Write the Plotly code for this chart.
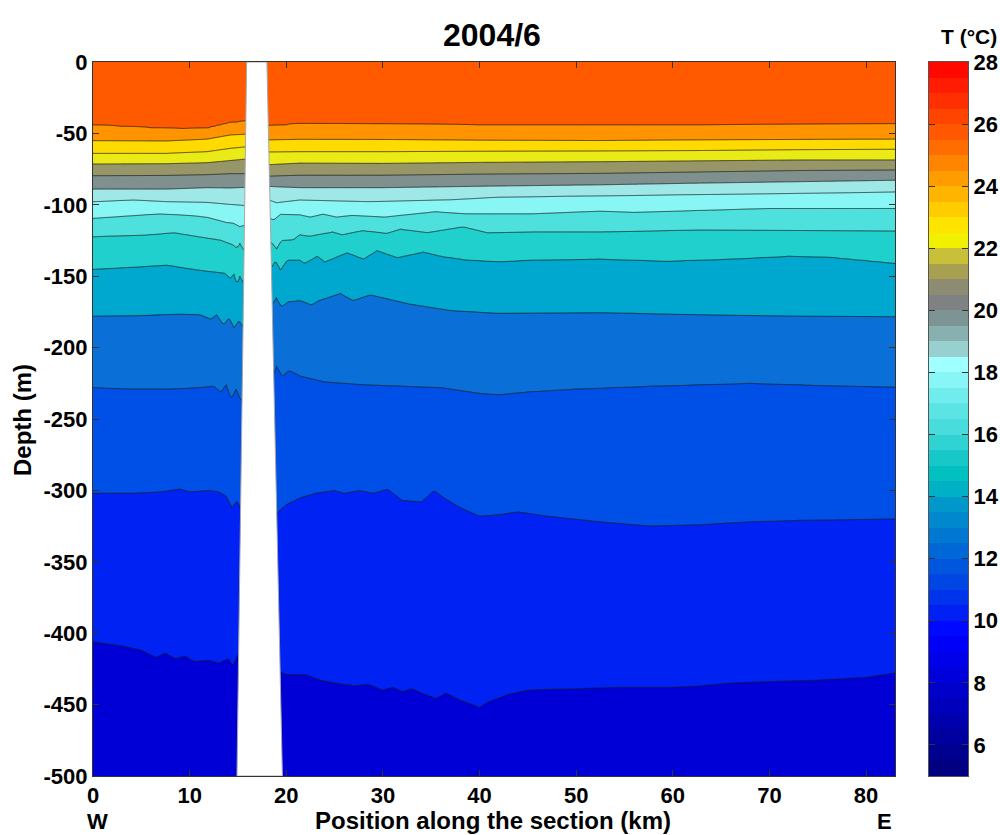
import numpy as np
import plotly.graph_objects as go

# ---------------- data ----------------
title_text = "2004/6"
x_ticks = [0, 10, 20, 30, 40, 50, 60, 70, 80]
y_ticks = [0, -50, -100, -150, -200, -250, -300, -350, -400, -450, -500]
y_tick_labels = ["0", "-50", "-100", "-150", "-200", "-250", "-300", "-350", "-400", "-450", "-500"]
cb_ticks = [6, 8, 10, 12, 14, 16, 18, 20, 22, 24, 26, 28]
cb_levels = [5 + 0.5 * k for k in range(47)]  # 5 .. 28 step 0.5

# isotherm depths (m) along the section (km), top to bottom
line01_x = [0, 5.2, 9.3, 11.8, 14.2, 16, 18, 20, 21.4, 30, 40, 52.5, 62.8, 73, 83]
line01_d = [-44.1, -45.8, -46.9, -46.4, -42.5, -41.3, -44.8, -44, -43, -43.5, -44, -44, -44, -43.8, -43.4]

line02_x = [0, 7.6, 11.8, 14.2, 16, 18, 21.4, 30, 40, 52.5, 62.8, 73, 83]
line02_d = [-55.1, -55.3, -54, -51.1, -50.5, -54.6, -54.2, -54.3, -54.8, -55, -54.6, -54.3, -54]

line03_x = [0, 7.6, 11.8, 14.2, 16, 18, 21.4, 30, 40, 52.5, 62.8, 73, 83]
line03_d = [-64, -64, -62.8, -60.5, -59.3, -63, -62.8, -62.8, -62.5, -62.3, -62, -61.4, -61.1]

line04_x = [0, 7.6, 11.8, 14.2, 16, 18, 21.4, 30, 40, 52.5, 62.8, 73, 83]
line04_d = [-71.4, -71.2, -70.5, -69, -67.8, -72, -70.8, -71, -70.3, -69.8, -69.2, -68.6, -68.6]

line05_x = [0, 7.6, 11.8, 14.2, 16, 18, 21.4, 30, 40, 52.5, 62.8, 73, 83]
line05_d = [-79.6, -79.4, -78.9, -78.2, -78.2, -80, -79.3, -79.3, -78.5, -78, -77, -76, -75.6]

line06_x = [0, 7.6, 11.8, 14.2, 16, 18, 21.4, 30, 40, 52.5, 62.8, 73, 83]
line06_d = [-89, -89, -88, -88.2, -87.7, -87, -88, -88, -87, -86, -84.8, -83.8, -82.8]

line07_x = [0, 4.2, 7.6, 11.8, 14.2, 16, 18, 19, 21.4, 28.5, 37, 42, 52.5, 62.8, 73, 83]
line07_d = [-97.8, -96.6, -97.8, -98.3, -99.7, -100.6, -96, -98.6, -96.6, -97.8, -96.5, -94.6, -93.7, -92.8, -92, -91]

line08_x = [0, 6.9, 10.2, 11.8, 12.8, 13.8, 14.5, 15.2, 16, 18, 18.7, 19.4, 21.4, 22.5, 23.8, 25.2,
            26.8, 30.2, 35.4, 38.5, 45.5, 52.5, 56, 70, 83]
line08_d = [-109.5, -106.3, -107.5, -108.7, -110.5, -112.4, -112.8, -115.3, -113.7, -108.3, -110.6, -106.5,
            -107, -108.6, -106.5, -108.6, -107.4, -108.6, -104.8, -106.3, -106.3, -104.4, -105.3, -102.5, -102.5]

line09_x = [0, 5.6, 8.4, 11.1, 13.2, 14.5, 14.9, 15.2, 15.6, 16, 18, 18.5, 19, 19.5, 20.7, 21.4, 22.4,
            24.8, 25.8, 27.9, 30.4, 31.8, 34.6, 38.3, 40.8, 45.5, 52.5, 62.8, 73, 83]
line09_d = [-122.3, -121.1, -119.5, -122.5, -124.7, -128, -130.4, -127, -131.6, -129.5, -124.6, -126.5,
            -131, -125, -124.6, -121, -122, -119, -121, -118, -120, -117, -119.5, -115.3, -119.5, -119,
            -119, -117.6, -118, -118.3]

line10_x = [0, 5.2, 7.6, 9.7, 11.8, 13.6, 14.2, 14.6, 14.9, 15.2, 15.6, 16, 18, 18.3, 18.9, 19.4, 20.1,
            21.4, 21.9, 23.2, 24, 26.3, 28, 29.4, 31.5, 34.2, 36, 38.7, 42.1, 45.5, 52.5, 59.4, 66, 72, 76, 83]
line10_d = [-145.2, -143.3, -142.2, -144.5, -146.5, -147.8, -151.3, -148.5, -156, -150, -155, -152,
            -139.8, -145.6, -139, -145.6, -138.7, -138.7, -141, -136, -140, -133.5, -138, -132, -137,
            -133, -136, -138.7, -139.8, -138.7, -138, -139.5, -138, -136, -136.5, -141]

line11_x = [0, 5, 9, 11.1, 12.2, 12.8, 13.5, 14.1, 14.6, 15.1, 15.6, 16, 18, 18.5, 19, 19.5, 20.2,
            21.4, 22.6, 23.4, 25.6, 26.9, 28.7, 32.8, 37, 42, 52.5, 62.8, 73, 83]
line11_d = [-178, -177.5, -176.5, -177, -180, -177, -184, -179, -186, -181, -186, -184, -163, -170,
            -165, -171.4, -168, -167, -170, -167, -162, -167, -163, -169.5, -174, -176, -175.5, -177,
            -178, -178.3]

line12_x = [0, 4, 8, 11, 12.5, 13.2, 13.8, 14.3, 14.8, 15.3, 16, 18, 18.5, 19, 19.6, 20.3, 21.5, 24,
            28, 32, 36, 40, 42, 45, 50, 57.7, 62.8, 68, 73, 78, 83]
line12_d = [-228, -229, -229, -228, -227, -231, -226, -236, -229, -237, -233, -214, -222, -213, -220,
            -216, -220, -224, -226, -227, -228, -232, -233, -231, -229, -227, -226, -225, -226, -227, -227.5]

line13_x = [0, 4, 7, 9, 10, 12, 13, 13.8, 14.4, 14.9, 15.4, 16, 18, 19, 20, 21.5, 23, 25, 26, 27.6,
            29, 30.5, 32, 34, 35.3, 36.5, 38, 40, 42, 44, 47, 52.5, 57.7, 62.8, 68, 73, 78, 83]
line13_d = [-302, -302, -301, -299, -301, -300, -301, -304, -312, -307, -314, -316, -314, -316, -310,
            -305, -302, -300, -302, -300, -302, -299, -307, -308, -300, -306, -312, -318, -317, -315,
            -318, -322, -325, -324, -322, -321, -320.5, -320]

line14_x = [0, 3, 5, 6.5, 7.5, 8.5, 9.5, 10.5, 12, 13, 14, 14.5, 15, 16, 18, 19, 20, 22, 23.5, 25, 27,
            28.5, 30, 31, 32, 33, 34, 35.5, 36.5, 38, 40, 41, 43, 45, 50, 55, 60, 62, 66, 70, 75, 80, 83]
line14_d = [-406, -409, -412, -417, -414, -418, -416, -420, -419, -421, -418, -423, -415, -420, -428,
            -426, -429, -429, -433, -435, -437, -436, -440, -438, -441, -439, -442, -446, -442, -447,
            -452, -448, -443, -440, -439, -438, -438, -437.5, -435, -434, -433, -431, -428]

# blanked (no data) wedge
gap_x = [14.9, 15.9, 18.0, 19.6, 14.9]
gap_d = [-500, 0, 0, -500, -500]

# ---------------- styles ----------------
layer_colors = ["#FF5A00", "#FF9400", "#FFDA00", "#EAEA16", "#969668", "#80908E", "#9EE8E8",
                "#88F6F4", "#4EE0DC", "#20D0CC", "#00A8D0", "#0A70D8", "#0050E8", "#0022F2", "#0000D6"]

cb_colors = ["#000080", "#00008F", "#00009E", "#0000AD", "#0000BC", "#0000CB", "#0000DA", "#0000E9",
             "#0000F8", "#0008FF", "#0020F4", "#0034EC", "#0046E4", "#0056DC", "#0068D6", "#0078D2",
             "#0088CE", "#0098CA", "#00B0C4", "#00C0C0", "#18C8C8", "#30D2D2", "#48DCDC", "#5CE4E4",
             "#70ECEC", "#88F6F6", "#A0FFFF", "#98D0D0", "#88B0B0", "#7C9494", "#7E8282", "#8C8C72",
             "#A8A050", "#C8C038", "#F0F000", "#FFE400", "#FFCC00", "#FFB400", "#FF9C00", "#FF8400",
             "#FF6C00", "#FF5800", "#FF4400", "#FF3000", "#FF1C00", "#FF0800"]

FONT = "Arial, 'Liberation Sans', sans-serif"

# ---------------- field ----------------
lines = [(line01_x, line01_d), (line02_x, line02_d), (line03_x, line03_d), (line04_x, line04_d),
         (line05_x, line05_d), (line06_x, line06_d), (line07_x, line07_d), (line08_x, line08_d),
         (line09_x, line09_d), (line10_x, line10_d), (line11_x, line11_d), (line12_x, line12_d),
         (line13_x, line13_d), (line14_x, line14_d)]
nL = len(lines)
xf = np.linspace(0, 83, 416)
df = np.linspace(0, -500, 501)
D = np.array([np.interp(xf, lx, ld) for lx, ld in lines])  # nL x nx
Z = np.zeros((len(df), len(xf)))
fp = np.arange(0, nL + 2, dtype=float)
for j in range(len(xf)):
    xp = np.concatenate([[0.0], -D[:, j], [500.0]])
    Z[:, j] = np.interp(-df, xp, fp)

# discrete colourscale for the contour layers
span = len(layer_colors) - 1
cs = []
for k, c in enumerate(layer_colors):
    cs.append([max(0.0, (k - 0.5) / span), c])
    cs.append([min(1.0, (k + 0.5) / span), c])

# discrete colourscale for the colorbar
m = len(cb_colors)
cbs = []
for k, c in enumerate(cb_colors):
    cbs.append([k / m, c])
    cbs.append([(k + 1) / m, c])
cb_centers = [(a + b) / 2 for a, b in zip(cb_levels[:-1], cb_levels[1:])]

# ---------------- geometry (pixels) ----------------
L, R_EDGE, T, B = 93, 968, 62, 776
PW = R_EDGE - L
main_right = (895 - L) / PW
cb_left = (929 - L) / PW


def px(xp):
    return (xp - L) / PW


def py(yp):
    return (B - yp) / (B - T)


fig = go.Figure()
fig.add_trace(go.Contour(
    x=xf, y=df, z=Z,
    contours=dict(start=1, end=nL, size=1, coloring="fill"),
    colorscale=cs, showscale=False,
    line=dict(color="rgba(25,25,25,0.85)", width=0.9, smoothing=0),
    hoverinfo="skip", xaxis="x", yaxis="y",
))
fig.add_trace(go.Scatter(
    x=gap_x, y=gap_d, mode="lines", fill="toself", fillcolor="white",
    line=dict(color="#A8A8A8", width=1), hoverinfo="skip", showlegend=False,
    xaxis="x", yaxis="y",
))
fig.add_trace(go.Heatmap(
    x=[0], y=cb_centers, z=[[v] for v in cb_centers],
    colorscale=cbs, zmin=cb_levels[0], zmax=cb_levels[-1], showscale=False,
    hoverinfo="skip", xaxis="x2", yaxis="y2",
))

tick_font = dict(family=FONT, size=22, color="black", weight="bold")
axis_common = dict(showline=True, linecolor="#333333", linewidth=1, mirror="ticks", ticks="inside",
                   ticklen=6, tickcolor="#333333", showgrid=False, zeroline=False, tickfont=tick_font,
                   automargin=False)

fig.update_layout(
    width=1000, height=835, autosize=False,
    margin=dict(l=L, r=1000 - R_EDGE, t=T, b=835 - B),
    paper_bgcolor="white", plot_bgcolor="white",
    showlegend=False,
    xaxis=dict(domain=[0, main_right], range=[0, 83], tickvals=x_ticks, anchor="y", **axis_common),
    yaxis=dict(domain=[0, 1], range=[-500, 0], tickvals=y_ticks, ticktext=y_tick_labels,
               anchor="x", **axis_common),
    xaxis2=dict(domain=[cb_left, 1], range=[-0.5, 0.5], anchor="y2", showticklabels=False,
                ticks="", showline=True, mirror=True, linecolor="#555555", linewidth=1,
                showgrid=False, zeroline=False, automargin=False),
    yaxis2=dict(domain=[0, 1], range=[cb_levels[0], cb_levels[-1]], anchor="x2", side="right",
                tickvals=cb_ticks, showline=True, mirror="ticks", linecolor="#555555", linewidth=1,
                ticks="inside", ticklen=6, tickcolor="#333333", showgrid=False, zeroline=False,
                tickfont=tick_font, automargin=False),
    annotations=[
        dict(text=title_text, xref="paper", yref="paper", x=px(492), y=py(35),
             showarrow=False, xanchor="center", yanchor="middle",
             font=dict(family=FONT, size=32, color="black", weight="bold")),
        dict(text="T (°C)", xref="paper", yref="paper", x=px(969), y=py(37),
             showarrow=False, xanchor="center", yanchor="middle",
             font=dict(family=FONT, size=21, color="black", weight="bold")),
        dict(text="Position along the section (km)", xref="paper", yref="paper",
             x=px(493), y=py(820), showarrow=False, xanchor="center",
             yanchor="middle", font=dict(family=FONT, size=24, color="black", weight="bold")),
        dict(text="W", xref="paper", yref="paper", x=px(97), y=py(821),
             showarrow=False, xanchor="center", yanchor="middle",
             font=dict(family=FONT, size=22, color="black", weight="bold")),
        dict(text="E", xref="paper", yref="paper", x=px(884), y=py(821),
             showarrow=False, xanchor="center", yanchor="middle",
             font=dict(family=FONT, size=22, color="black", weight="bold")),
        dict(text="Depth (m)", xref="paper", yref="paper", x=px(22), y=py(420),
             showarrow=False, xanchor="center", yanchor="middle", textangle=-90,
             font=dict(family=FONT, size=24, color="black", weight="bold")),
    ],
)

fig.write_html(
    "out.html",
    config={"responsive": False, "displayModeBar": False},
    post_script="document.body.style.margin='0px';document.body.style.overflow='hidden';",
)
